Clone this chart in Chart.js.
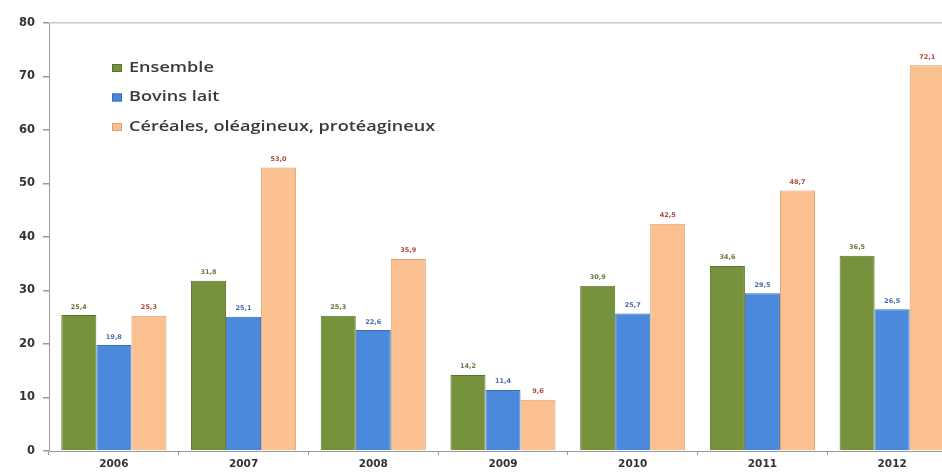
<!DOCTYPE html>
<html>
<head>
<meta charset="utf-8">
<script src="https://cdn.jsdelivr.net/npm/chart.js@4/dist/chart.umd.min.js"></script>
<style>
html,body{margin:0;padding:0;background:#fff;overflow:hidden;width:942px;height:475px;}
#wrap{position:absolute;left:0;top:0;width:960px;height:475px;}
</style>
</head>
<body>
<div id="wrap"><canvas id="c" width="960" height="475"></canvas></div>
<script>
const categories = ['2006','2007','2008','2009','2010','2011','2012'];
const seriesNames = ['Ensemble','Bovins lait','Céréales, oléagineux, protéagineux'];
const ensemble = [25.4, 31.8, 25.3, 14.2, 30.9, 34.6, 36.5];
const bovinsLait = [19.8, 25.1, 22.6, 11.4, 25.7, 29.5, 26.5];
const cereales = [25.3, 53.0, 35.9, 9.6, 42.5, 48.7, 72.1];
const yTicks = [0,10,20,30,40,50,60,70,80];

const fills = ['#76923c','#4a89dc','#fac08f'];
const borders = ['#5b7330','#3a6fb5','#d9a070'];
const labelColors = ['#6a7a40','#4a6fa8','#b04a40'];

const valueLabels = {
  id:'valueLabels',
  afterDatasetsDraw(chart){
    const ctx = chart.ctx;
    ctx.save();
    ctx.font = 'bold 6.5px "DejaVu Sans", sans-serif';
    ctx.textAlign = 'center';
    ctx.textBaseline = 'bottom';
    chart.data.datasets.forEach((ds,i)=>{
      const meta = chart.getDatasetMeta(i);
      ctx.fillStyle = labelColors[i];
      meta.data.forEach((bar,j)=>{
        ctx.fillText(ds.data[j].toFixed(1).replace('.',','), bar.x, bar.y - 5);
      });
    });
    ctx.restore();
  }
};

const insideLegend = {
  id:'insideLegend',
  afterDraw(chart){
    const ctx = chart.ctx;
    chart.data.datasets.forEach((ds,i)=>{
      const y = 68 + i*29.5;
      ctx.save();
      ctx.fillStyle = fills[i];
      ctx.fillRect(112, y-4, 10, 8);
      ctx.strokeStyle = borders[i];
      ctx.lineWidth = 1;
      ctx.strokeRect(112.5, y-3.5, 9, 7);
      ctx.translate(129, y);
      ctx.scale(1.34, 1);
      ctx.font = '600 13.5px "Open Sans", sans-serif';
      ctx.textBaseline = 'middle';
      ctx.textAlign = 'left';
      ctx.fillStyle = '#3a3a3a';
      ctx.fillText(ds.label, 0, 0);
      ctx.restore();
    });
  }
};

new Chart(document.getElementById('c'), {
  type:'bar',
  data:{
    labels: categories,
    datasets:[
      {label:seriesNames[0], data:ensemble, backgroundColor:fills[0], borderColor:borders[0], borderWidth:1},
      {label:seriesNames[1], data:bovinsLait, backgroundColor:fills[1], borderColor:borders[1], borderWidth:1},
      {label:seriesNames[2], data:cereales, backgroundColor:fills[2], borderColor:borders[2], borderWidth:1}
    ]
  },
  options:{
    responsive:false,
    animation:false,
    devicePixelRatio:1,
    layout:{padding:{top:23,right:3,bottom:0,left:0}},
    datasets:{bar:{categoryPercentage:0.81, barPercentage:1}},
    plugins:{legend:{display:false}, tooltip:{enabled:false}},
    scales:{
      x:{
        afterFit(s){ s.height = 24; },
        grid:{offset:true, drawOnChartArea:false, tickLength:4, color:'#9a9a9a'},
        border:{color:'#9a9a9a', width:1},
        ticks:{color:'#333', font:{family:'"DejaVu Sans", sans-serif', size:10.5, weight:'bold'}, padding:3}
      },
      y:{
        min:0, max:80,
        afterFit(s){ s.width = 49; },
        afterBuildTicks(s){ s.ticks = yTicks.map(v=>({value:v})); },
        grid:{
          drawOnChartArea:true,
          color:(c)=> c.tick && c.tick.value===80 ? '#c8c8c8' : 'rgba(0,0,0,0)',
          lineWidth:1.5,
          tickColor:'#9a9a9a',
          tickLength:6
        },
        border:{color:'#9a9a9a', width:1},
        ticks:{color:'#333', font:{family:'"DejaVu Sans", sans-serif', size:11.5, weight:'bold'}, padding:8}
      }
    }
  },
  plugins:[valueLabels, insideLegend]
});
</script>
</body>
</html>
